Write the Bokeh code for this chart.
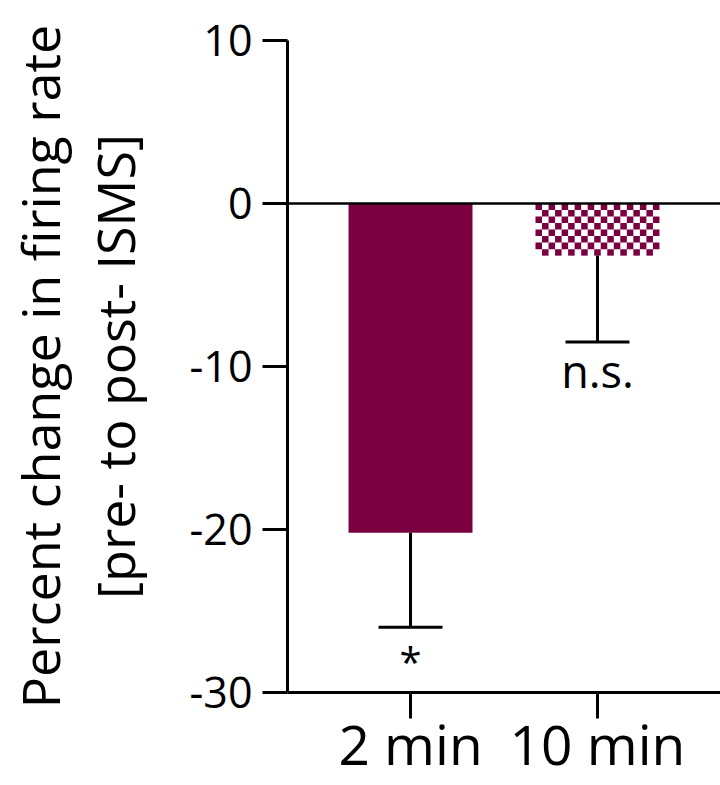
from bokeh.plotting import figure
from bokeh.models import Range1d, FixedTicker, Span, LinearAxis
from bokeh.core.properties import value
from bokeh.embed import file_html
from bokeh.resources import INLINE

# ---------------- data ----------------
categories = ["2 min", "10 min"]
means = [-20.2, -3.2]            # percent change
err_lower = [5.8, 5.3]           # one-sided (downward) error bars
sig_labels = ["*", "n.s."]
y_ticks = [-30, -20, -10, 0, 10]
y_tick_labels = ["-30", "-20", "-10", "0", "10"]
y_title_lines = ["Percent change in firing rate", "[pre- to post- ISMS]"]

# ---------------- style ----------------
FONT = "Open Sans"
MAROON = "#7b0041"
BAR_W = 0.663
CAP_W = 0.342
LW = 3

xpos = [i + 1 for i in range(len(categories))]
ends = [m - e for m, e in zip(means, err_lower)]

p = figure(width=720, height=785, output_backend="svg", toolbar_location=None,
           x_range=Range1d(0.342, 2.658), y_range=Range1d(-30, 10),
           min_border_left=287, min_border_right=0, min_border_top=40,
           min_border_bottom=93)
p.outline_line_color = None
p.xgrid.visible = False
p.ygrid.visible = False
p.background_fill_color = "white"
p.border_fill_color = "white"

# bar 1: solid
p.quad(left=[xpos[0] - BAR_W / 2], right=[xpos[0] + BAR_W / 2],
       top=[0], bottom=[means[0]], fill_color=MAROON, line_color=None)

# bar 2: checkerboard built from its bounds
ncols, nrows = 19, 8
l2 = xpos[1] - BAR_W / 2
cw = BAR_W / ncols
ch = (0 - means[1]) / nrows
cl, cr, ct, cb = [], [], [], []
for r in range(nrows):
    for c in range(ncols):
        if (r + c) % 2 == 0:
            cl.append(l2 + c * cw)
            cr.append(l2 + (c + 1) * cw)
            ct.append(0 - r * ch)
            cb.append(0 - (r + 1) * ch)
p.quad(left=cl, right=cr, top=ct, bottom=cb, fill_color=MAROON, line_color=None)

# error bars (down only)
p.segment(x0=xpos, x1=xpos, y0=means, y1=ends, line_color="black", line_width=LW)
p.segment(x0=[x - CAP_W / 2 for x in xpos], x1=[x + CAP_W / 2 for x in xpos],
          y0=ends, y1=ends, line_color="black", line_width=LW)

# zero line
p.add_layout(Span(location=0, dimension="width", line_color="black", line_width=2.5))

# significance labels
p.text(x=[xpos[0]], y=[ends[0]], text=[sig_labels[0]], y_offset=34,
       text_align="center", text_baseline="alphabetic",
       text_font=value(FONT), text_font_size="40px", text_color="black")
p.text(x=[xpos[1]], y=[ends[1]], text=[sig_labels[1]], y_offset=28,
       text_align="center", text_baseline="alphabetic",
       text_font=value(FONT), text_font_size="45px", text_color="black")

# y axis (with second title line)
ya = p.yaxis[0]
ya.ticker = FixedTicker(ticks=y_ticks)
ya.major_label_overrides = {t: s for t, s in zip(y_ticks, y_tick_labels)}
ya.major_label_text_font = FONT
ya.major_label_text_font_size = "43px"
ya.major_label_text_color = "black"
ya.major_label_standoff = 10
ya.axis_line_width = LW
ya.axis_line_color = "black"
ya.major_tick_line_width = LW
ya.major_tick_line_color = "black"
ya.major_tick_out = 25
ya.major_tick_in = 0
ya.minor_tick_line_color = None
ya.axis_label = y_title_lines[1]
ya.axis_label_text_font = FONT
ya.axis_label_text_font_size = "52px"
ya.axis_label_text_font_style = "normal"
ya.axis_label_text_color = "black"
ya.axis_label_standoff = 36

# outer axis carrying the first title line
ya2 = LinearAxis(ticker=FixedTicker(ticks=[]), axis_line_color=None,
                 major_tick_line_color=None, minor_tick_line_color=None,
                 axis_label=y_title_lines[0], axis_label_text_font=FONT,
                 axis_label_text_font_size="52px", axis_label_text_font_style="normal",
                 axis_label_text_color="black", axis_label_standoff=2)
p.add_layout(ya2, "left")

# x axis with category labels
xa = p.xaxis[0]
xa.ticker = FixedTicker(ticks=xpos)
xa.major_label_overrides = {x: c for x, c in zip(xpos, categories)}
xa.major_label_text_font = FONT
xa.major_label_text_font_size = "55px"
xa.major_label_text_color = "black"
xa.major_label_standoff = -13
xa.axis_line_width = LW
xa.axis_line_color = "black"
xa.major_tick_line_width = LW
xa.major_tick_line_color = "black"
xa.major_tick_out = 26
xa.major_tick_in = 0
xa.minor_tick_line_color = None

open("out.html", "w").write(file_html(p, INLINE))
